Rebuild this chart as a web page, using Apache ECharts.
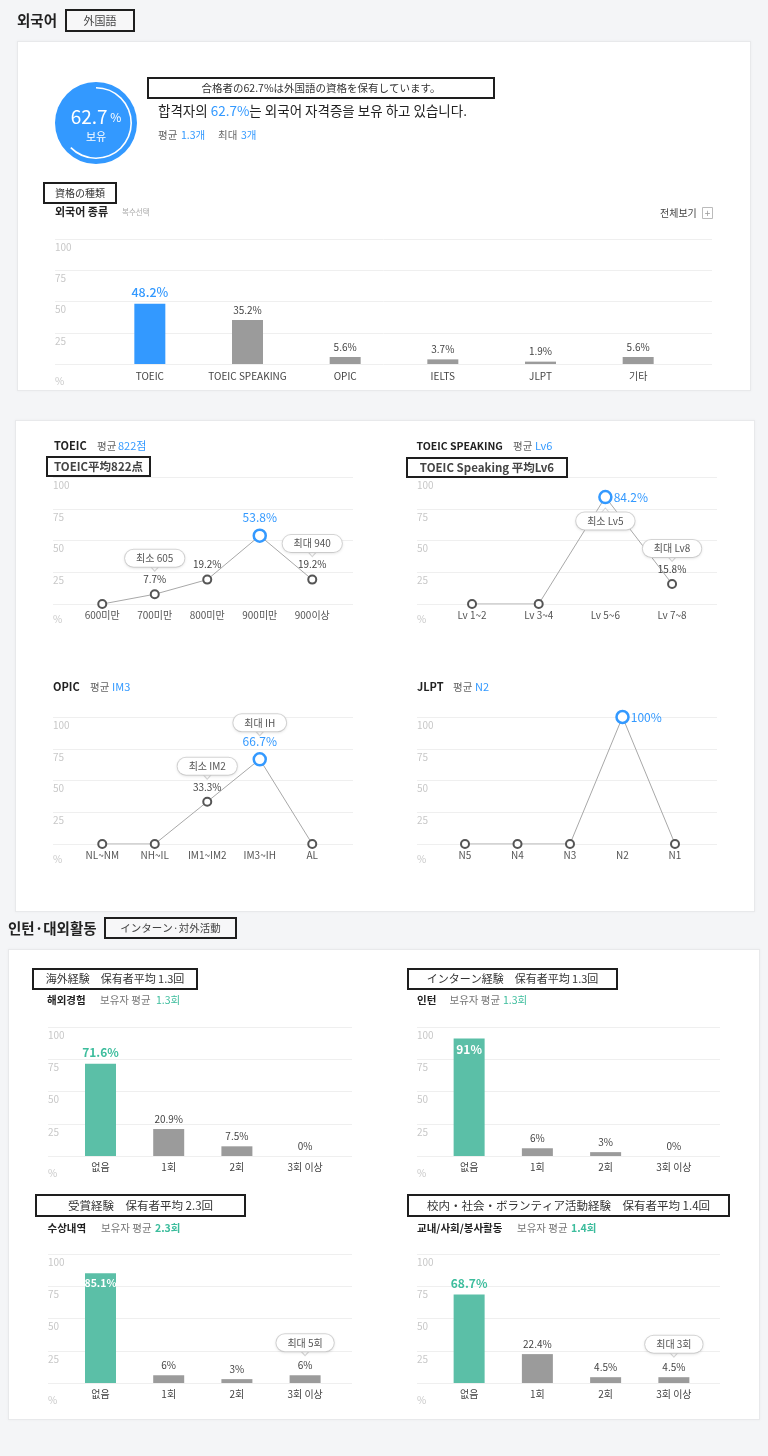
<!DOCTYPE html>
<html><head><meta charset="utf-8">
<script src="https://cdn.jsdelivr.net/npm/echarts@6/dist/echarts.min.js"></script>
<style>
html,body{margin:0;padding:0;background:#f4f5f7;}
#wrap{position:relative;width:768px;height:1456px;overflow:hidden;background:#f4f5f7;}
.card{position:absolute;background:#fff;border:1px solid #e8e9eb;box-sizing:border-box;box-shadow:0 0 3px rgba(0,0,0,0.04);}
#chart{position:absolute;left:0;top:0;width:768px;height:1456px;}
</style></head><body>
<div id="wrap">
<div class="card" style="left:17px;top:41px;width:734px;height:350px"></div>
<div class="card" style="left:15px;top:420px;width:740px;height:492px"></div>
<div class="card" style="left:8px;top:949px;width:752px;height:471px"></div>
<div id="chart"></div>
</div>
<script>
// ---------------- data ----------------
const holdRate = 62.7;
const langAvg = '1.3개';
const langMax = '3개';
const langCats = ['TOEIC', 'TOEIC SPEAKING', 'OPIC', 'IELTS', 'JLPT', '기타'];
const langVals = [48.2, 35.2, 5.6, 3.7, 1.9, 5.6];

const toeicCats = ['600미만', '700미만', '800미만', '900미만', '900이상'];
const toeicVals = [0, 7.7, 19.2, 53.8, 19.2];
const toeicNotes = [['700미만', '최소 605'], ['900이상', '최대 940']];

const tspCats = ['Lv 1~2', 'Lv 3~4', 'Lv 5~6', 'Lv 7~8'];
const tspVals = [0, 0, 84.2, 15.8];
const tspNotes = [['Lv 5~6', '최소 Lv5'], ['Lv 7~8', '최대 Lv8']];

const opicCats = ['NL~NM', 'NH~IL', 'IM1~IM2', 'IM3~IH', 'AL'];
const opicVals = [0, 0, 33.3, 66.7, 0];
const opicNotes = [['IM1~IM2', '최소 IM2'], ['IM3~IH', '최대 IH']];

const jlptCats = ['N5', 'N4', 'N3', 'N2', 'N1'];
const jlptVals = [0, 0, 0, 100, 0];

const countCats = ['없음', '1회', '2회', '3회 이상'];
const abroadVals = [71.6, 20.9, 7.5, 0];
const internVals = [91, 6, 3, 0];
const awardVals = [85.1, 6, 3, 6];
const activityVals = [68.7, 22.4, 4.5, 4.5];
const awardNote = ['3회 이상', '최대 5회'];
const activityNote = ['3회 이상', '최대 3회'];

const yTicks = [0, 25, 50, 75, 100];

// ---------------- styling ----------------
const FONT = "'Noto Sans CJK KR','Noto Sans',sans-serif";
const JP = "'Noto Sans CJK JP','Noto Sans CJK KR',sans-serif";
const BLUE = '#3399ff';
const TEAL = '#5bbfa7';
const TEAL_TXT = '#3dbd9d';
const GRAY = '#9b9b9b';
const Y_MIN = yTicks[0], Y_MAX = yTicks[yTicks.length - 1], Y_STEP = yTicks[1] - yTicks[0];

const grids = [], xAxes = [], yAxes = [], series = [], graphics = [];

function addFrame(left, top, width, height, pctPad) {
  const gi = grids.length;
  grids.push({left, top, width, height, outerBoundsMode: 'none'});
  xAxes.push({gridIndex: gi, type: 'value', show: false, min: 0, max: 1});
  yAxes.push({gridIndex: gi, type: 'value', min: Y_MIN, max: Y_MAX, interval: Y_STEP,
    axisLine: {show: false}, axisTick: {show: false},
    splitLine: {lineStyle: {color: '#efefef', width: 1}},
    axisLabel: {inside: true, margin: 0, align: 'left', verticalAlign: 'top', color: '#c8c8c8', fontSize: 10,
      padding: [3, 0, 0, 0],
      formatter: v => v === Y_MIN ? '{p|%}' : String(v),
      rich: {p: {color: '#c8c8c8', fontSize: 10, padding: [pctPad, 0, 0, 0]}}}});
}
function addData(left, top, width, height, cats, margin, color) {
  const gi = grids.length;
  grids.push({left, top, width, height, outerBoundsMode: 'none'});
  xAxes.push({gridIndex: gi, type: 'category', data: cats, boundaryGap: true,
    axisLine: {show: false}, axisTick: {show: false}, splitLine: {show: false},
    axisLabel: {interval: 0, color: color || '#444', fontSize: 10, margin}});
  yAxes.push({gridIndex: gi, type: 'value', min: Y_MIN, max: Y_MAX, show: false});
  return gi;
}
function bubble(cat, val, text, dy) {
  const up = dy > 0;
  return [
    {coord: [cat, val], symbol: 'triangle', symbolSize: [9, 5], symbolRotate: up ? 0 : 180,
      symbolOffset: [0, up ? dy - 10.5 : dy + 10.5],
      itemStyle: {color: '#fff', borderColor: '#d6d6d6', borderWidth: 1}, label: {show: false}},
    {coord: [cat, val], symbol: 'circle', symbolSize: 1, itemStyle: {color: 'rgba(0,0,0,0)'},
      label: {show: true, position: 'inside', formatter: text, offset: [0, dy], backgroundColor: '#fff',
        borderColor: '#d6d6d6', borderWidth: 1, borderRadius: 9, padding: [2, 11, 2, 11],
        color: '#555', fontSize: 10, lineHeight: 13, fontFamily: FONT,
        shadowBlur: 3, shadowColor: 'rgba(0,0,0,0.08)', shadowOffsetY: 1}}
  ];
}
function findVal(cats, vals, cat) { return vals[cats.indexOf(cat)]; }
function addLine(gi, vals, hiPos, marks) {
  const hi = vals.indexOf(Math.max(...vals));
  series.push({type: 'line', xAxisIndex: gi, yAxisIndex: gi, silent: true, z: 3,
    symbol: 'circle', symbolSize: 8,
    itemStyle: {color: '#fff', borderColor: '#555', borderWidth: 2},
    lineStyle: {color: '#a8a8a8', width: 1},
    label: {show: true, position: 'top', distance: 5, color: '#444', fontSize: 10,
      formatter: p => p.value ? p.value + '%' : ''},
    data: vals.map((v, i) => i === hi ? {value: v, symbolSize: 12,
      itemStyle: {color: '#fff', borderColor: BLUE, borderWidth: 2.5},
      label: {color: BLUE, fontSize: 12, position: hiPos, distance: hiPos === 'right' ? 1 : 5}} : v),
    markPoint: {silent: true, data: marks.flat()}
  });
}
function addBars(gi, vals, hiColor, hiLabel, marks) {
  const hi = vals.indexOf(Math.max(...vals));
  series.push({type: 'bar', xAxisIndex: gi, yAxisIndex: gi, silent: true, barWidth: 31,
    itemStyle: {color: GRAY},
    label: {show: true, position: 'top', distance: 5, color: '#444', fontSize: 10, formatter: '{c}%'},
    data: vals.map((v, i) => i === hi ? {value: v, itemStyle: {color: hiColor}, label: hiLabel} : v),
    markPoint: {silent: true, data: (marks || []).flat()}
  });
}
function txt(x, y, text, o) {
  graphics.push({type: 'text', x, y, z: 10, silent: true,
    style: Object.assign({text, fill: '#333', fontSize: 11, fontFamily: FONT, fontWeight: 'normal',
      textAlign: 'left', align: 'left', textVerticalAlign: 'middle', verticalAlign: 'middle'}, o || {})});
}
function box(x, y, w, h, text, o, fill) {
  graphics.push({type: 'rect', z: 9, silent: true, shape: {x, y, width: w, height: h},
    style: {fill: fill || '#fff', stroke: '#1e1e1e', lineWidth: 2}});
  txt(x + w / 2, y + h / 2, text, Object.assign({textAlign: 'center', align: 'center', fontFamily: JP, fill: '#333', fontSize: 11}, o || {}));
}

// ---------------- section 1 header ----------------
txt(17, 20, '외국어', {fontWeight: 'bold', fontSize: 14.5, fill: '#222'});
box(66, 10, 68, 21, '外国語', {fontSize: 11, fill: '#444'}, '#f7f7f8');

graphics.push({type: 'circle', z: 0, silent: true, shape: {cx: 96, cy: 123, r: 41}, style: {fill: BLUE}});
series.push({type: 'gauge', center: [96, 123], radius: 36, startAngle: 90, endAngle: -270, min: 0, max: 100, z: 5, silent: true,
  progress: {show: true, width: 1.6, itemStyle: {color: '#fff'}},
  axisLine: {lineStyle: {width: 1.6, color: [[1, 'rgba(255,255,255,0)']]}},
  axisTick: {show: false}, splitLine: {show: false}, axisLabel: {show: false}, pointer: {show: false},
  anchor: {show: false}, title: {show: false},
  detail: {offsetCenter: [0, 2], fontWeight: 'normal', formatter: v => '{v|' + v + '}{u| %}\n{s|보유}',
    rich: {v: {fontSize: 19, color: '#fff', fontFamily: FONT, fontWeight: 'normal', lineHeight: 24},
      u: {fontSize: 12, color: '#fff', fontFamily: FONT, fontWeight: 'normal', lineHeight: 24},
      s: {fontSize: 11, color: '#fff', fontFamily: FONT, fontWeight: 'normal', lineHeight: 16}}},
  data: [{value: holdRate}]
});

box(148, 78, 346, 20, '合格者の' + holdRate + '%は外国語の資格を保有しています。', {fontSize: 10.5, fill: '#333'});
txt(158, 111, '{a|합격자의 }{b|' + holdRate + '%}{a|는 외국어 자격증을 보유 하고 있습니다.}',
  {rich: {a: {fill: '#222', fontSize: 13.5, fontFamily: FONT}, b: {fill: BLUE, fontSize: 13.5, fontFamily: FONT}}});
txt(158, 135, '평균', {fill: '#666', fontSize: 10.5});
txt(181, 135, langAvg, {fill: BLUE, fontSize: 10.5});
txt(218, 135, '최대', {fill: '#666', fontSize: 10.5});
txt(241, 135, langMax, {fill: BLUE, fontSize: 10.5});

box(44, 183, 72, 20, '資格の種類', {fontSize: 10, fill: '#333'});
txt(55, 212, '외국어 종류', {fontWeight: 'bold', fontSize: 11, fill: '#222'});
txt(122, 212, '복수선택', {fontSize: 7.5, fill: '#aaa'});
txt(660, 213, '전체보기', {fontSize: 10, fill: '#444'});
graphics.push({type: 'rect', z: 9, silent: true, shape: {x: 702.5, y: 207.5, width: 10, height: 11}, style: {fill: '#fff', stroke: '#bbb', lineWidth: 1}});
txt(707.5, 213, '+', {fontSize: 10, fill: '#999', textAlign: 'center', align: 'center'});

// language bar chart
addFrame(55, 239, 657, 125, 9);
let g = addData(101, 239, 586, 125, langCats, 7);
addBars(g, langVals, BLUE, {color: BLUE, fontSize: 12.5, fontWeight: 500});

// ---------------- TOEIC ----------------
txt(54, 446, 'TOEIC', {fontWeight: 'bold', fontSize: 11, fill: '#222'});
txt(97, 446, '평균', {fill: '#666', fontSize: 10.5});
txt(118, 446, '822점', {fill: BLUE, fontSize: 11});
box(47, 457, 103, 19, 'TOEIC平均822点', {fontWeight: 'bold', fontSize: 11.5, fill: '#444'});
addFrame(53, 477, 300, 127, 7);
g = addData(76, 477, 262.5, 127, toeicCats, 6, '#555');
addLine(g, toeicVals, 'top', [
  bubble(toeicNotes[0][0], findVal(toeicCats, toeicVals, toeicNotes[0][0]), toeicNotes[0][1], -36),
  bubble(toeicNotes[1][0], findVal(toeicCats, toeicVals, toeicNotes[1][0]), toeicNotes[1][1], -36)]);

// ---------------- TOEIC SPEAKING ----------------
txt(416.5, 446, 'TOEIC SPEAKING', {fontWeight: 'bold', fontSize: 10.5, fill: '#222'});
txt(513, 446, '평균', {fill: '#666', fontSize: 10.5});
txt(535, 446, 'Lv6', {fill: BLUE, fontSize: 11});
box(407, 458, 160, 19, 'TOEIC Speaking 平均Lv6', {fontWeight: 'bold', fontSize: 11.5, fill: '#444'});
addFrame(417, 477, 300, 127, 7);
g = addData(438.7, 477, 266.7, 127, tspCats, 6, '#555');
addLine(g, tspVals, 'right', [
  bubble(tspNotes[0][0], findVal(tspCats, tspVals, tspNotes[0][0]), tspNotes[0][1], 24),
  bubble(tspNotes[1][0], findVal(tspCats, tspVals, tspNotes[1][0]), tspNotes[1][1], -35.5)]);

// ---------------- OPIC ----------------
txt(53, 687, 'OPIC', {fontWeight: 'bold', fontSize: 11, fill: '#222'});
txt(90, 687, '평균', {fill: '#666', fontSize: 10.5});
txt(112, 687, 'IM3', {fill: BLUE, fontSize: 11});
addFrame(53, 717, 300, 127, 7);
g = addData(76, 717, 262.5, 127, opicCats, 6, '#555');
addLine(g, opicVals, 'top', [
  bubble(opicNotes[0][0], findVal(opicCats, opicVals, opicNotes[0][0]), opicNotes[0][1], -35.5),
  bubble(opicNotes[1][0], findVal(opicCats, opicVals, opicNotes[1][0]), opicNotes[1][1], -36.5)]);

// ---------------- JLPT ----------------
txt(417, 687, 'JLPT', {fontWeight: 'bold', fontSize: 11, fill: '#222'});
txt(453, 687, '평균', {fill: '#666', fontSize: 10.5});
txt(475, 687, 'N2', {fill: BLUE, fontSize: 11});
addFrame(417, 717, 300, 127, 7);
g = addData(438.75, 717, 262.5, 127, jlptCats, 6, '#555');
addLine(g, jlptVals, 'right', []);

// ---------------- section 2 ----------------
txt(8, 928, '인턴·대외활동', {fontWeight: 'bold', fontSize: 14.5, fill: '#222'});
box(105, 918, 131, 20, 'インターン·対外活動', {fontSize: 10.5, fill: '#444'}, '#f7f7f8');

const insideLbl = {position: 'insideTop', distance: 5, color: '#fff', fontSize: 10.5, fontWeight: 'bold'};
const tealLbl = {color: TEAL_TXT, fontSize: 12, fontWeight: 'bold'};

// A
box(33, 969, 164, 20, '海外経験　保有者平均 1.3回', {fontSize: 11, fill: '#333'});
txt(47, 1000, '해외경험', {fontWeight: 'bold', fontSize: 10.5, fill: '#222'});
txt(100, 1000, '보유자 평균', {fill: '#777', fontSize: 10.5});
txt(156, 1000, '1.3회', {fill: TEAL_TXT, fontSize: 10.5});
addFrame(48, 1027, 304, 129, 9);
g = addData(66.4, 1027, 272.8, 129, countCats, 6);
addBars(g, abroadVals, TEAL, tealLbl);

// B
box(408, 969, 209, 20, 'インターン経験　保有者平均 1.3回', {fontSize: 11, fill: '#333'});
txt(417, 1000, '인턴', {fontWeight: 'bold', fontSize: 10.5, fill: '#222'});
txt(449.5, 1000, '보유자 평균', {fill: '#777', fontSize: 10.5});
txt(503, 1000, '1.3회', {fill: TEAL_TXT, fontSize: 10.5});
addFrame(417, 1027, 303, 129, 9);
g = addData(435, 1027, 273, 129, countCats, 6);
addBars(g, internVals, TEAL, Object.assign({}, insideLbl, {fontSize: 12}));

// C
box(36, 1195, 209, 21, '受賞経験　保有者平均 2.3回', {fontSize: 11.5, fill: '#333'});
txt(47.5, 1228, '수상내역', {fontWeight: 'bold', fontSize: 10.5, fill: '#222'});
txt(101, 1228, '보유자 평균', {fill: '#777', fontSize: 10.5});
txt(155, 1228, '2.3회', {fill: TEAL_TXT, fontSize: 10.5, fontWeight: 'bold'});
addFrame(48, 1254, 304, 129, 9);
g = addData(66.4, 1254, 272.8, 129, countCats, 6);
addBars(g, awardVals, TEAL, insideLbl,
  [bubble(awardNote[0], findVal(countCats, awardVals, awardNote[0]), awardNote[1], -32.5)]);

// D
box(408, 1195, 321, 21, '校内・社会・ボランティア活動経験　保有者平均 1.4回', {fontSize: 11.5, fill: '#333'});
txt(417, 1228, '교내/사회/봉사활동', {fontWeight: 'bold', fontSize: 10.5, fill: '#222'});
txt(517, 1228, '보유자 평균', {fill: '#777', fontSize: 10.5});
txt(571, 1228, '1.4회', {fill: TEAL_TXT, fontSize: 10.5, fontWeight: 'bold'});
addFrame(417, 1254, 303, 129, 9);
g = addData(435, 1254, 273, 129, countCats, 6);
addBars(g, activityVals, TEAL, tealLbl,
  [bubble(activityNote[0], findVal(countCats, activityVals, activityNote[0]), activityNote[1], -33)]);

// ---------------- render ----------------
const chart = echarts.init(document.getElementById('chart'), null, {renderer: 'canvas'});
chart.setOption({
  backgroundColor: 'transparent',
  animation: false,
  textStyle: {fontFamily: FONT},
  grid: grids, xAxis: xAxes, yAxis: yAxes, series,
  graphic: {elements: graphics}
});
</script>
</body></html>
